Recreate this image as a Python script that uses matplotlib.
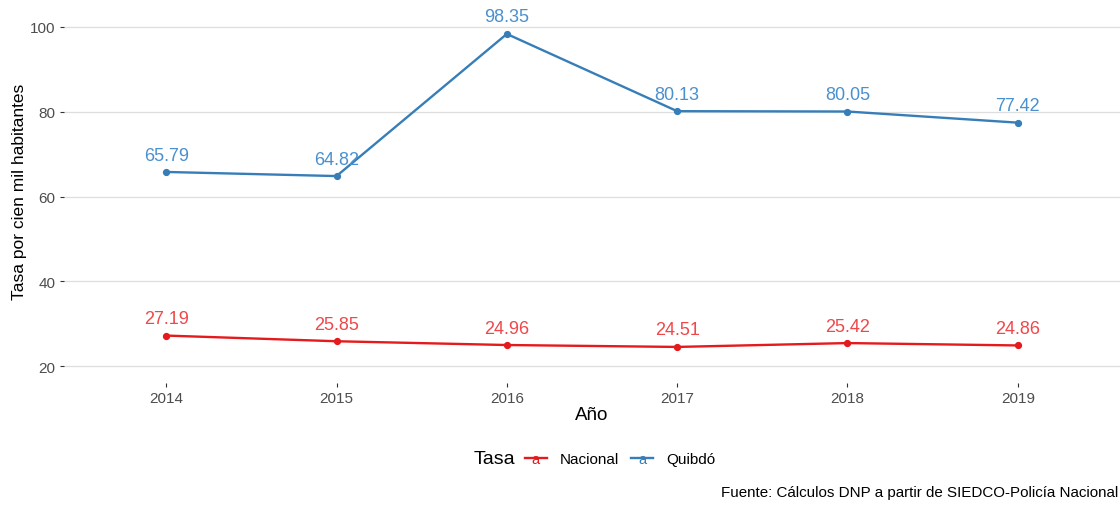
import matplotlib
matplotlib.use("Agg")
import matplotlib.pyplot as plt
from matplotlib.lines import Line2D
from matplotlib.text import Text
from matplotlib.legend_handler import HandlerBase

plt.rcParams['font.family'] = ['Liberation Sans', 'DejaVu Sans']

years = ["2014", "2015", "2016", "2017", "2018", "2019"]
nacional = [27.19, 25.85, 24.96, 24.51, 25.42, 24.86]
quibdo = [65.79, 64.82, 98.35, 80.13, 80.05, 77.42]
series_names = ["Nacional", "Quibdó"]
yticks = [20, 40, 60, 80, 100]

c_nac = "#E41A1C"
c_qui = "#377EB8"
c_nac_txt = "#F0474A"
c_qui_txt = "#4A90CF"

fig = plt.figure(figsize=(11.2, 5.06), dpi=100)
ax = fig.add_axes([64/1120, 1-384/506, 1-64/1120, (384-11)/506])

x = list(range(len(years)))
for vals, col, tcol in [(nacional, c_nac, c_nac_txt), (quibdo, c_qui, c_qui_txt)]:
    ax.plot(x, vals, color=col, lw=1.7, marker='o', markersize=4.2, zorder=3)
    for xi, v in zip(x, vals):
        ax.text(xi, v + 4.0, f"{v:.2f}", color=tcol, fontsize=13, ha='center', va='center', zorder=4)

ax.set_xlim(-0.6, len(years) - 0.4)
ax.set_ylim(16, 104)
ax.set_xticks(x)
ax.set_xticklabels(years)
ax.set_yticks(yticks)
ax.grid(axis='y', color='#DEDEDE', lw=0.9)
ax.grid(axis='x', visible=False)
ax.set_axisbelow(True)
for s in ax.spines.values():
    s.set_visible(False)
ax.tick_params(axis='both', colors='#333333', labelcolor='#4D4D4D', labelsize=11, length=3, width=0.8, pad=3)
ax.set_xlabel("Año", fontsize=13.5, color='black', labelpad=0.5)
ax.set_ylabel("Tasa por cien mil habitantes", fontsize=12.5, color='black')
ax.yaxis.set_label_coords(-(64 - 27) / 1056, (384 - 192) / 373)


class HandlerLineText(HandlerBase):
    def create_artists(self, legend, orig_handle, xdescent, ydescent, width, height, fontsize, trans):
        col = orig_handle.get_color()
        y = height / 2 - ydescent
        ln = Line2D([-xdescent, width - xdescent], [y, y], color=col, lw=1.7, transform=trans)
        tx = Text(width / 2 - xdescent, y - 1.0, 'a', color=col, fontsize=10.5, ha='center', va='center',
                  transform=trans)
        return [ln, tx]


handles = [Line2D([], [], color=c_nac), Line2D([], [], color=c_qui)]
fig.legend(handles, series_names, loc='center', bbox_to_anchor=(620/1120, 1-460/506), ncol=2,
           frameon=False, fontsize=11, handler_map={Line2D: HandlerLineText()},
           handlelength=1.45, handletextpad=0.85, columnspacing=0.8, borderpad=0)
fig.text(494/1120, 1-460/506, "Tasa", ha='center', va='center', fontsize=14, color='black')

fig.text(1118/1120, 1-493/506, "Fuente: Cálculos DNP a partir de SIEDCO-Policía Nacional", ha='right', va='center',
         fontsize=10.9, color='black')

fig.savefig("out.png", dpi=100)
